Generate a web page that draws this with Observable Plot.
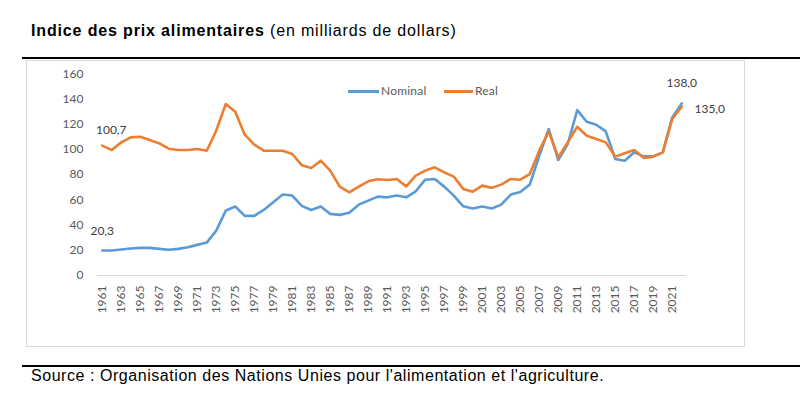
<!DOCTYPE html>
<html>
<head>
<meta charset="utf-8">
<script src="https://cdn.jsdelivr.net/npm/d3@7"></script>
<script src="https://cdn.jsdelivr.net/npm/@observablehq/plot@0.6"></script>
<style>
  html, body { margin: 0; padding: 0; background: #fff; }
  #wrap { position: relative; width: 812px; height: 398px; overflow: hidden; }
  .abs { position: absolute; }
  #title { left: 31px; top: 23px; font-family: "Liberation Sans", Arial, sans-serif; font-size: 16px; line-height: 16px; letter-spacing: 0.85px; color: #000; white-space: nowrap; }
  #title b { font-weight: bold; }
  #source { left: 31px; top: 368px; font-family: "Liberation Sans", Arial, sans-serif; font-size: 16px; line-height: 16px; letter-spacing: 0.55px; color: #000; white-space: nowrap; }
  .hr { left: 22px; width: 778px; height: 2px; background: #000; }
  #box { left: 26px; top: 60px; width: 717px; height: 285px; border: 1px solid #d9d9d9; }
  #chart { left: 0; top: 0; }
  .leg { font-family: Lato, "Open Sans", sans-serif; font-size: 12px; color: #595959; line-height: 12px; white-space: nowrap; letter-spacing: 0.2px; }
  .legline { height: 2.5px; }
</style>
</head>
<body>
<div id="wrap">
  <div id="title" class="abs"><b>Indice des prix alimentaires</b> (en milliards de dollars)</div>
  <div class="abs hr" style="top:57px"></div>
  <div id="box" class="abs"></div>
  <div class="abs hr" style="top:365px"></div>
  <div id="source" class="abs">Source : Organisation des Nations Unies pour l'alimentation et l'agriculture.</div>
  <div id="chart" class="abs"></div>
</div>
<script>
const years = [1961,1962,1963,1964,1965,1966,1967,1968,1969,1970,
  1971,1972,1973,1974,1975,1976,1977,1978,1979,1980,
  1981,1982,1983,1984,1985,1986,1987,1988,1989,1990,
  1991,1992,1993,1994,1995,1996,1997,1998,1999,2000,
  2001,2002,2003,2004,2005,2006,2007,2008,2009,2010,
  2011,2012,2013,2014,2015,2016,2017,2018,2019,2020,
  2021,2022];
const nominal = [19.8,19.8,20.6,21.4,21.9,21.9,21.1,20.4,21.1,22.4,
  24.3,26.1,35.6,51.5,54.7,47.3,47.3,52.0,58.1,64.2,
  63.4,55.2,52.0,54.7,48.9,48.1,49.7,56.2,59.4,62.6,
  62.0,63.4,62.0,66.8,76.0,76.6,70.5,63.4,54.9,53.1,
  54.7,53.1,56.2,64.2,66.3,72.1,95.0,116.2,91.6,104.3,
  131.2,122.0,119.6,114.3,92.4,91.1,97.7,94.5,94.5,97.7,
  125.4,136.5];
const real = [103.0,99.5,105.6,109.6,110.1,107.5,104.8,100.6,99.5,99.5,
  100.3,99.0,114.9,136.0,129.9,111.7,103.8,99.0,99.0,99.0,
  96.4,87.5,85.3,91.1,83.2,70.5,66.0,70.5,74.7,76.3,
  75.8,76.6,70.7,79.2,83.2,85.8,81.8,78.4,68.7,66.5,
  71.3,69.5,72.1,76.6,76.0,80.5,99.0,114.3,93.7,105.6,
  118.0,110.9,108.3,105.6,94.3,96.9,99.5,93.2,94.3,97.7,
  124.1,134.1];
const seriesNames = ["Nominal", "Real"];
const seriesColors = ["#5b9bd5", "#ed7d31"];
const yTicks = [0,20,40,60,80,100,120,140,160];
const xTicks = years.filter((y, i) => i % 2 === 0);
const labelTexts = ["100,7", "20,3", "138,0", "135,0"];
const labelYears = [1961, 1961, 2022, 2022];
const labelSeries = ["Real", "Nominal", "Nominal", "Real"];

const rows = [];
years.forEach((yr, i) => {
  rows.push({year: yr, value: nominal[i], series: seriesNames[0]});
  rows.push({year: yr, value: real[i], series: seriesNames[1]});
});
const lab = labelTexts.map((t, i) => {
  const src = labelSeries[i] === "Nominal" ? nominal : real;
  return {text: t, year: labelYears[i], value: src[years.indexOf(labelYears[i])]};
});
const labelOffsets = [[9, -15], [0, -19], [0, -20], [28, 3]];
const font = "Lato, 'Open Sans', sans-serif";

const chart = Plot.plot({
  width: 812,
  height: 398,
  marginLeft: 97,
  marginRight: 126,
  marginTop: 73.3,
  marginBottom: 123,
  style: {fontFamily: font, background: "transparent"},
  x: {type: "point", domain: years, padding: 0.5},
  y: {domain: [0, 160]},
  color: {domain: seriesNames, range: seriesColors},
  marks: [
    Plot.ruleY([0], {stroke: "#d9d9d9", strokeWidth: 1}),
    Plot.axisY({ticks: yTicks, tickSize: 0, tickPadding: 14, fontSize: 12, fill: "#595959", label: null}),
    Plot.axisX({ticks: xTicks, tickSize: 0, tickPadding: 10, tickRotate: -90, fontSize: 12, fill: "#595959", label: null, tickFormat: d => String(d)}),
    Plot.line(rows, {x: "year", y: "value", z: "series", stroke: "series", strokeWidth: 2.6, strokeLinejoin: "round", strokeLinecap: "round"}),
    ...lab.map((d, i) => Plot.text([d], {x: "year", y: "value", text: "text", dx: labelOffsets[i][0], dy: labelOffsets[i][1], fontSize: 12, fill: "#404040"}))
  ]
});
document.getElementById("chart").appendChild(chart);

// legend
const wrap = document.getElementById("wrap");
const legendItems = [
  {name: seriesNames[0], color: seriesColors[0], x: 348, w: 31},
  {name: seriesNames[1], color: seriesColors[1], x: 444, w: 29}
];
legendItems.forEach(it => {
  const ln = document.createElement("div");
  ln.className = "abs legline";
  ln.style.left = it.x + "px"; ln.style.top = "90px"; ln.style.width = it.w + "px"; ln.style.background = it.color;
  wrap.appendChild(ln);
  const tx = document.createElement("div");
  tx.className = "abs leg";
  tx.style.left = (it.x + it.w + 2) + "px"; tx.style.top = "85px";
  tx.textContent = it.name;
  wrap.appendChild(tx);
});
</script>
</body>
</html>
